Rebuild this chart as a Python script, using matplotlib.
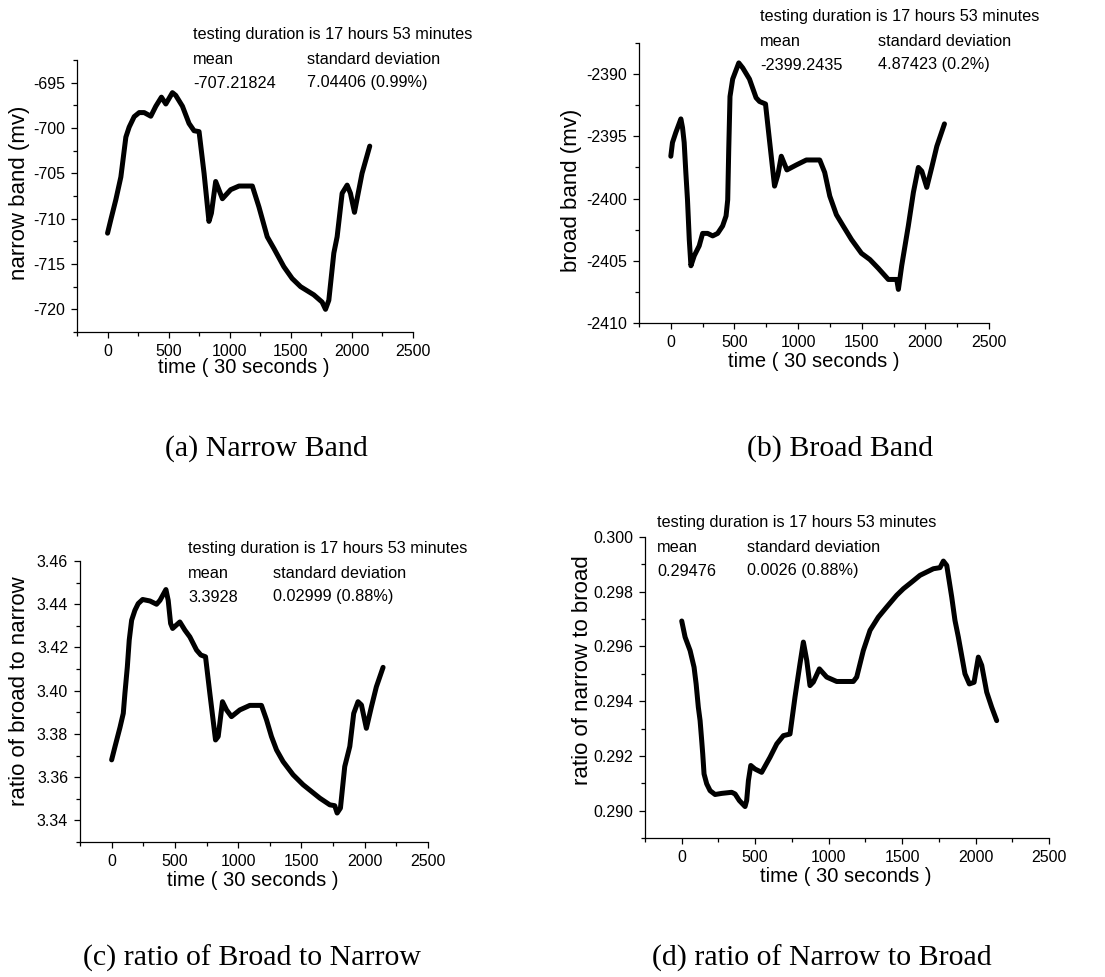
import matplotlib.pyplot as plt
from matplotlib.ticker import MultipleLocator

plt.rcParams['font.family'] = ['Liberation Sans', 'DejaVu Sans']

W, H = 1105, 977

# time index (30 s steps) and readings for each panel
t_narrow = [0, 27, 68, 109, 150, 177, 218, 259, 300, 354, 395, 441, 477, 531, 558,
            613, 667, 708, 749, 790, 830, 850, 885, 940, 1008, 1076, 1185, 1239,
            1307, 1362, 1443, 1511, 1580, 1688, 1756, 1784, 1811, 1852, 1879, 1920,
            1961, 1988, 2021, 2083, 2146]
narrow = [-711.6, -710.1, -707.9, -705.4, -701.0, -699.9, -698.75, -698.3, -698.3,
          -698.7, -697.6, -696.6, -697.35, -696.1, -696.4, -697.6, -699.5, -700.3,
          -700.4, -705.0, -710.3, -709.4, -705.9, -707.8, -706.8, -706.4, -706.4,
          -708.7, -712.0, -713.3, -715.3, -716.6, -717.5, -718.4, -719.2, -720.0,
          -719.0, -713.8, -712.0, -707.2, -706.3, -707.2, -709.3, -705.0, -702.0]

t_broad = [0, 13, 39, 79, 92, 105, 118, 131, 145, 158, 184, 223, 250, 289, 329, 368,
           407, 434, 447, 455, 465, 486, 534, 565, 618, 670, 697, 744, 775, 815, 841,
           868, 912, 986, 1065, 1170, 1209, 1249, 1301, 1354, 1420, 1498, 1564, 1630,
           1709, 1775, 1788, 1814, 1866, 1906, 1945, 1972, 2011, 2050, 2090, 2150]
broad = [-2396.6, -2395.5, -2394.7, -2393.6, -2394.3, -2395.5, -2397.9, -2400.1,
         -2403.3, -2405.4, -2404.6, -2403.8, -2402.8, -2402.8, -2403.0, -2402.8,
         -2402.2, -2401.4, -2400.1, -2396.1, -2391.8, -2390.4, -2389.1, -2389.5,
         -2390.4, -2391.9, -2392.2, -2392.4, -2395.3, -2399.0, -2398.1, -2396.6,
         -2397.7, -2397.3, -2396.9, -2396.9, -2397.9, -2399.8, -2401.3, -2402.2,
         -2403.3, -2404.4, -2404.9, -2405.6, -2406.5, -2406.5, -2407.3, -2405.4,
         -2402.2, -2399.5, -2397.5, -2397.8, -2399.1, -2397.5, -2395.8, -2394.0]

t_b2n = [0, 26, 66, 92, 105, 124, 139, 158, 184, 210, 245, 303, 355, 382, 429, 447,
         466, 482, 539, 579, 618, 671, 705, 742, 776, 821, 842, 876, 908, 947, 1013,
         1092, 1184, 1224, 1263, 1303, 1355, 1434, 1513, 1579, 1645, 1724, 1763, 1782,
         1808, 1842, 1882, 1913, 1947, 1974, 2013, 2053, 2092, 2145]
b2n = [3.368, 3.374, 3.383, 3.3895, 3.3988, 3.411, 3.4234, 3.4326, 3.4372, 3.4403,
       3.4422, 3.4415, 3.440, 3.4418, 3.4468, 3.4418, 3.4311, 3.4288, 3.4318, 3.428,
       3.4249, 3.4188, 3.4165, 3.4157, 3.3988, 3.3772, 3.3788, 3.3949, 3.3911, 3.388,
       3.3911, 3.3932, 3.3932, 3.3865, 3.3788, 3.3726, 3.3672, 3.3611, 3.3565, 3.3534,
       3.3503, 3.3472, 3.3468, 3.3434, 3.3457, 3.3649, 3.3742, 3.3895, 3.3949, 3.3934,
       3.3826, 3.3926, 3.4018, 3.4108]

t_n2b = [0, 23, 57, 84, 98, 113, 125, 136, 143, 152, 170, 193, 227, 272, 340, 363, 392,
         431, 442, 454, 470, 499, 544, 601, 647, 692, 737, 771, 805, 828, 851, 873, 896,
         937, 987, 1055, 1168, 1191, 1236, 1282, 1338, 1395, 1463, 1509, 1565, 1622,
         1713, 1758, 1781, 1804, 1838, 1860, 1883, 1928, 1958, 1990, 2019, 2042, 2076,
         2110, 2144]
n2b = [0.29693, 0.29634, 0.29585, 0.29524, 0.29463, 0.29378, 0.29329, 0.29256, 0.29207,
       0.29134, 0.29098, 0.29073, 0.29059, 0.29063, 0.29067, 0.29061, 0.29037, 0.29015,
       0.29037, 0.2911, 0.29165, 0.29152, 0.2914, 0.29195, 0.29244, 0.29274, 0.2928,
       0.29415, 0.29537, 0.29616, 0.29549, 0.29457, 0.2947, 0.29518, 0.29488, 0.29472,
       0.29472, 0.29488, 0.29585, 0.29659, 0.29707, 0.29744, 0.29787, 0.29811, 0.29835,
       0.2986, 0.29884, 0.29888, 0.29912, 0.29896, 0.2978, 0.29695, 0.29634, 0.295,
       0.29463, 0.29469, 0.29561, 0.29531, 0.29433, 0.29378, 0.29329]

stats_mean = ['-707.21824', '-2399.2435', '3.3928', '0.29476']
stats_std = ['7.04406 (0.99%)', '4.87423 (0.2%)', '0.02999 (0.88%)', '0.0026 (0.88%)']
ylabels = ['narrow band (mv)', 'broad band (mv)', 'ratio of broad to narrow',
           'ratio of narrow to broad']
captions = ['(a) Narrow Band', '(b) Broad Band', '(c) ratio of Broad to Narrow',
            '(d) ratio of Narrow to Broad']


def px_box(left, top, right, bottom):
    return [left / W, 1 - bottom / H, (right - left) / W, (bottom - top) / H]


def fp(x, y):
    return x / W, 1 - y / H


fig = plt.figure(figsize=(W / 100, H / 100), dpi=100)

# per panel: axes box (px), ylim, y major/minor step, y tick format,
# stats text (x, first-line y, second column x), xlabel centre, ylabel centre,
# caption centre
layout = [
    dict(box=(77, 60, 413, 332), ylim=(-722.5, -692.5), maj=5, mnr=2.5, fmt='{:.0f}',
         txt=(193, 35, 307), xl=(244, 368), yl=(20, 193), cap=(266, 449)),
    dict(box=(639, 43, 989, 323), ylim=(-2410, -2387.5), maj=5, mnr=2.5, fmt='{:.0f}',
         txt=(760, 17, 878), xl=(814, 362), yl=(571, 190), cap=(840, 449)),
    dict(box=(80, 561, 428, 842), ylim=(3.33, 3.46), maj=0.02, mnr=0.01, fmt='{:.2f}',
         txt=(188, 549, 273), xl=(253, 880), yl=(20, 691), cap=(252, 958)),
    dict(box=(645, 537, 1049, 838), ylim=(0.289, 0.300), maj=0.002, mnr=0.001,
         fmt='{:.3f}', txt=(657, 523, 747), xl=(846, 876), yl=(583, 670),
         cap=(822, 958)),
]
series = [(t_narrow, narrow), (t_broad, broad), (t_b2n, b2n), (t_n2b, n2b)]

for i, ((t, v), L) in enumerate(zip(series, layout)):
    ax = fig.add_axes(px_box(*L['box']))
    ax.plot(t, v, color='black', lw=3.6, solid_capstyle='round',
            solid_joinstyle='round')
    ax.set_xlim(-250, 2500)
    ax.set_ylim(*L['ylim'])
    ax.xaxis.set_major_locator(MultipleLocator(500))
    ax.xaxis.set_minor_locator(MultipleLocator(250))
    ax.yaxis.set_major_locator(MultipleLocator(L['maj']))
    ax.yaxis.set_minor_locator(MultipleLocator(L['mnr']))
    ax.yaxis.set_major_formatter(
        plt.FuncFormatter(lambda y, p, f=L['fmt']: f.format(y)))
    for s in ['top', 'right']:
        ax.spines[s].set_visible(False)
    for s in ['left', 'bottom']:
        ax.spines[s].set_linewidth(0.9)
    ax.tick_params(which='both', direction='out', width=0.9, labelsize=11.5)
    ax.tick_params(which='major', length=4)
    ax.tick_params(which='minor', length=3)
    ax.tick_params(axis='x', pad=5)
    ax.tick_params(axis='y', pad=4.5)

    fig.text(*fp(*L['xl']), 'time ( 30 seconds )', fontsize=14.5,
             ha='center', va='center')
    fig.text(*fp(*L['yl']), ylabels[i], fontsize=16, rotation=90,
             ha='center', va='center')

    x0, y0, x2 = L['txt']
    fig.text(*fp(x0, y0), 'testing duration is 17 hours 53 minutes',
             fontsize=11.7, va='center', ha='left')
    fig.text(*fp(x0, y0 + 24), 'mean', fontsize=11.7, va='center', ha='left')
    fig.text(*fp(x2, y0 + 24), 'standard deviation', fontsize=11.7,
             va='center', ha='left')
    fig.text(*fp(x0, y0 + 48), stats_mean[i], fontsize=11.7, va='center',
             ha='left')
    fig.text(*fp(x2, y0 + 48), stats_std[i], fontsize=11.7, va='center',
             ha='left')
    fig.text(*fp(*L['cap']), captions[i], fontsize=21.5,
             family='Liberation Serif', va='center', ha='center')

fig.savefig('out.png', dpi=100, facecolor='white')
